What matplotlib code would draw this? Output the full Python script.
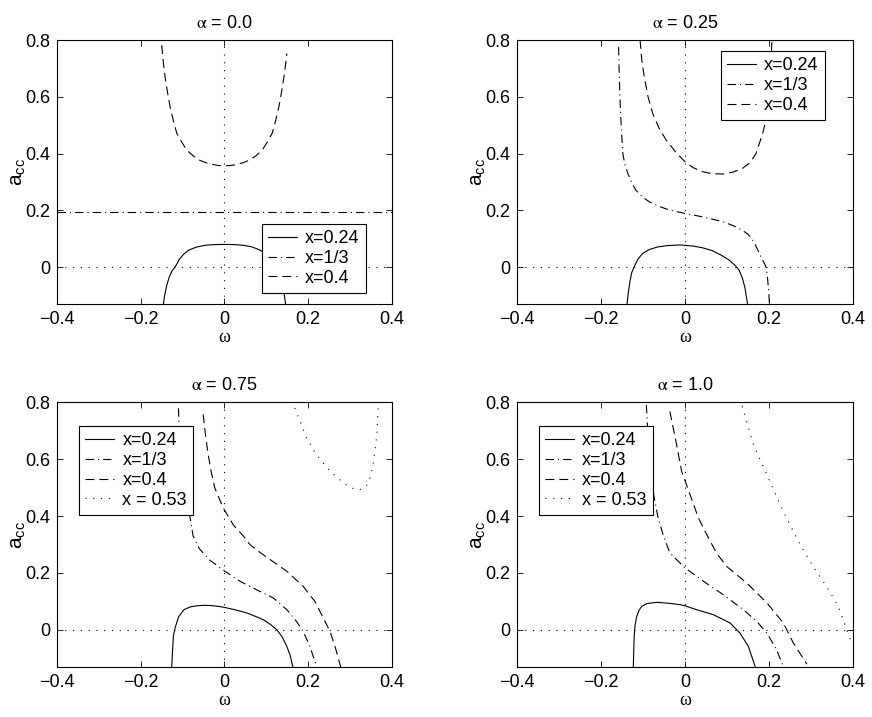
import matplotlib
matplotlib.use("Agg")
import matplotlib.pyplot as plt

plt.rcParams['font.family'] = ['Liberation Sans', 'DejaVu Sans']
plt.rcParams['mathtext.fontset'] = 'stix'

# alpha = 0.0
w0_x024 = [-0.146, -0.143, -0.138, -0.132, -0.125, -0.118, -0.108, -0.098, -0.085, -0.066, -0.045, -0.020, 0.0,
           0.020, 0.045, 0.066, 0.085, 0.098, 0.108, 0.118, 0.125, 0.132, 0.138, 0.143, 0.146]
a0_x024 = [-0.13, -0.10, -0.065, -0.035, -0.012, 0.0, 0.027, 0.045, 0.060, 0.071, 0.077, 0.0795, 0.080,
           0.0795, 0.077, 0.071, 0.060, 0.045, 0.027, 0.0, -0.012, -0.035, -0.065, -0.10, -0.13]
w0_x13 = [-0.4, 0.4]
a0_x13 = [0.195, 0.195]
w0_x04 = [-0.150, -0.146, -0.142, -0.136, -0.130, -0.122, -0.114, -0.102, -0.090, -0.075, -0.060, -0.045, -0.030, -0.015, 0.0,
          0.015, 0.030, 0.045, 0.060, 0.075, 0.090, 0.102, 0.114, 0.122, 0.130, 0.136, 0.142, 0.146, 0.149]
a0_x04 = [0.782, 0.720, 0.670, 0.615, 0.565, 0.515, 0.472, 0.440, 0.412, 0.392, 0.377, 0.368, 0.362, 0.358, 0.357,
          0.358, 0.362, 0.368, 0.377, 0.392, 0.412, 0.440, 0.472, 0.515, 0.565, 0.615, 0.670, 0.715, 0.753]

# alpha = 0.25
w1_x024 = [-0.138, -0.135, -0.131, -0.127, -0.121, -0.112, -0.101, -0.085, -0.065, -0.040, -0.010, 0.020, 0.042,
           0.065, 0.085, 0.105, 0.120, 0.129, 0.137, 0.143, 0.149]
a1_x024 = [-0.131, -0.090, -0.050, -0.020, 0.001, 0.028, 0.048, 0.062, 0.071, 0.076, 0.078, 0.074, 0.068,
           0.058, 0.043, 0.025, 0.005, -0.011, -0.040, -0.075, -0.131]
w1_x13 = [-0.158, -0.157, -0.155, -0.152, -0.148, -0.143, -0.136, -0.127, -0.117, -0.102, -0.085, -0.060, -0.037, 0.0,
          0.042, 0.090, 0.115, 0.135, 0.150, 0.160, 0.167, 0.175, 0.183, 0.190, 0.193, 0.196, 0.199, 0.201]
a1_x13 = [0.776, 0.700, 0.600, 0.500, 0.400, 0.360, 0.330, 0.298, 0.271, 0.248, 0.230, 0.213, 0.201, 0.189,
          0.177, 0.160, 0.146, 0.131, 0.116, 0.098, 0.080, 0.055, 0.030, 0.010, 0.0, -0.030, -0.080, -0.128]
w1_x04 = [-0.107, -0.103, -0.097, -0.088, -0.077, -0.062, -0.045, -0.022, 0.0, 0.020, 0.042, 0.065, 0.090,
          0.115, 0.137, 0.155, 0.169, 0.185, 0.197, 0.203, 0.207]
a1_x04 = [0.800, 0.730, 0.671, 0.600, 0.542, 0.490, 0.448, 0.405, 0.371, 0.350, 0.336, 0.329, 0.328,
          0.335, 0.348, 0.368, 0.400, 0.471, 0.542, 0.650, 0.800]

# alpha = 0.75
w2_x024 = [-0.126, -0.124, -0.122, -0.118, -0.110, -0.097, -0.082, -0.066, -0.050, -0.034, -0.015, 0.001, 0.025,
           0.053, 0.075, 0.093, 0.110, 0.125, 0.138, 0.149, 0.157, 0.163]
a2_x024 = [-0.128, -0.070, -0.020, 0.007, 0.045, 0.071, 0.081, 0.085, 0.0865, 0.086, 0.083, 0.079, 0.071,
           0.060, 0.047, 0.036, 0.019, 0.001, -0.025, -0.058, -0.090, -0.128]
w2_x13 = [-0.110, -0.107, -0.102, -0.094, -0.084, -0.075, -0.060, -0.035, -0.003, 0.037, 0.077, 0.117,
          0.149, 0.172, 0.188, 0.204, 0.220]
a2_x13 = [0.778, 0.650, 0.540, 0.460, 0.410, 0.330, 0.285, 0.245, 0.210, 0.171, 0.141, 0.112,
          0.071, 0.030, -0.005, -0.058, -0.128]
w2_x04 = [-0.051, -0.045, -0.039, -0.031, -0.023, -0.003, 0.021, 0.049, 0.061, 0.085, 0.109, 0.149, 0.188,
          0.216, 0.236, 0.252, 0.264, 0.276, 0.278]
a2_x04 = [0.757, 0.680, 0.615, 0.550, 0.498, 0.428, 0.369, 0.323, 0.299, 0.272, 0.247, 0.206, 0.153,
          0.100, 0.042, -0.005, -0.058, -0.122, -0.13]
w2_x053 = [0.168, 0.196, 0.220, 0.252, 0.284, 0.296, 0.308, 0.316, 0.324, 0.336, 0.344, 0.350, 0.356, 0.364, 0.367]
a2_x053 = [0.779, 0.674, 0.615, 0.557, 0.516, 0.505, 0.496, 0.492, 0.493, 0.502, 0.516, 0.545, 0.592, 0.685, 0.779]

# alpha = 1.0
w3_x024 = [-0.123, -0.122, -0.121, -0.119, -0.115, -0.109, -0.103, -0.090, -0.067, -0.040, -0.012, 0.0, 0.028,
           0.067, 0.107, 0.131, 0.151, 0.167]
a3_x024 = [-0.128, -0.070, -0.022, 0.015, 0.048, 0.070, 0.083, 0.093, 0.097, 0.094, 0.089, 0.085, 0.071,
           0.054, 0.025, -0.011, -0.058, -0.128]
w3_x13 = [-0.092, -0.088, -0.082, -0.074, -0.064, -0.052, -0.036, 0.0, 0.044, 0.091, 0.139, 0.171, 0.195, 0.218, 0.234]
a3_x13 = [0.790, 0.680, 0.570, 0.470, 0.393, 0.334, 0.270, 0.218, 0.171, 0.124, 0.071, 0.030, -0.011, -0.069, -0.128]
w3_x04 = [-0.036, -0.020, -0.008, 0.012, 0.032, 0.052, 0.075, 0.099, 0.147, 0.195, 0.234, 0.258, 0.286, 0.290]
a3_x04 = [0.767, 0.650, 0.557, 0.475, 0.393, 0.334, 0.270, 0.223, 0.165, 0.095, 0.025, -0.046, -0.110, -0.12]
w3_x053 = [0.136, 0.163, 0.195, 0.234, 0.270, 0.305, 0.337, 0.365, 0.385, 0.395]
a3_x053 = [0.785, 0.650, 0.545, 0.416, 0.311, 0.223, 0.153, 0.083, 0.001, -0.040]

titles = ['0.0', '0.25', '0.75', '1.0']
labels = ['x=0.24', 'x=1/3', 'x=0.4', 'x = 0.53']
styles = ['-', (0, (7.6, 3.6, 1, 3.6)), (0, (8, 4.5)), (0, (1, 6))]

panels = [
    [(w0_x024, a0_x024), (w0_x13, a0_x13), (w0_x04, a0_x04)],
    [(w1_x024, a1_x024), (w1_x13, a1_x13), (w1_x04, a1_x04)],
    [(w2_x024, a2_x024), (w2_x13, a2_x13), (w2_x04, a2_x04), (w2_x053, a2_x053)],
    [(w3_x024, a3_x024), (w3_x13, a3_x13), (w3_x04, a3_x04), (w3_x053, a3_x053)],
]

rects = [
    [0.0654, 0.576, 0.3841, 0.3682],
    [0.5929, 0.576, 0.3853, 0.3682],
    [0.0654, 0.0697, 0.3841, 0.3696],
    [0.5929, 0.0697, 0.3853, 0.3696],
]
leg_pos = [('lower right', (0.922, 0.042)), ('upper right', (0.917, 0.958)),
           ('upper left', (0.066, 0.909)), ('upper left', (0.065, 0.909))]

fig = plt.figure(figsize=(8.72, 7.17), dpi=100)
for i in range(4):
    ax = fig.add_axes(rects[i])
    ax.axvline(0, color='k', lw=0.8, ls=(0, (1, 6)))
    ax.axhline(0, color='k', lw=0.8, ls=(0, (1, 6)))
    lines = []
    for j, (w, a) in enumerate(panels[i]):
        ln, = ax.plot(w, a, color='k', lw=0.8, ls=styles[j], label=labels[j])
        lines.append(ln)
    ax.set_xlim(-0.4, 0.4)
    ax.set_ylim(-0.13, 0.8)
    ax.set_xticks([-0.4, -0.2, 0, 0.2, 0.4])
    ax.set_xticklabels(['\u22120.4', '\u22120.2', '0', '0.2', '0.4'])
    ax.set_yticks([0, 0.2, 0.4, 0.6, 0.8])
    ax.set_yticklabels(['0', '0.2', '0.4', '0.6', '0.8'])
    ax.tick_params(direction='in', top=True, right=True, labelsize=13, length=4, width=0.6, pad=5)
    for s in ax.spines.values():
        s.set_linewidth(0.8)
    ax.set_title(r'$\mathrm{\alpha}$ = ' + titles[i], fontsize=13, pad=9)
    ax.set_xlabel('ω', fontsize=13, family=['Liberation Serif'], labelpad=1)
    ax.set_ylabel(r'$\mathregular{a_{cc}}$', fontsize=15, labelpad=-2)
    loc, anchor = leg_pos[i]
    leg = ax.legend(handles=lines, loc=loc, bbox_to_anchor=anchor, borderaxespad=0,
                    fontsize=13, fancybox=False, framealpha=1, edgecolor='k',
                    handlelength=1.6, handletextpad=0.45, labelspacing=0.15, borderpad=0.35)
    leg.get_frame().set_linewidth(0.8)

fig.savefig('out.png', dpi=100)
